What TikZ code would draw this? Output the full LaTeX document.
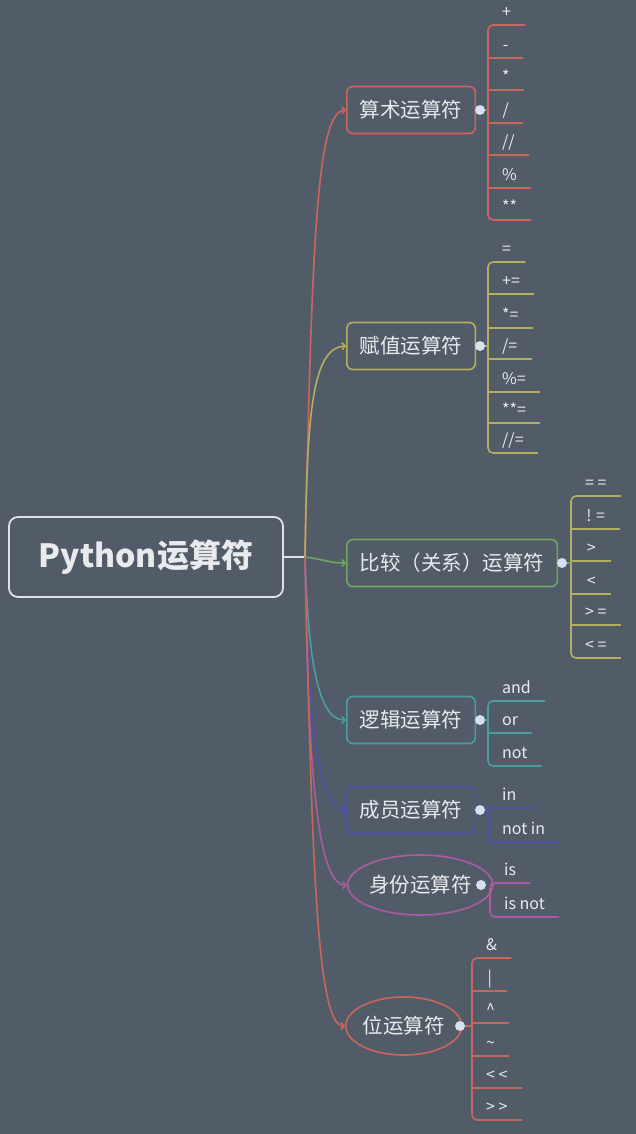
\documentclass[tikz,border=0pt]{standalone}
\usepackage{fontspec}
\setmainfont{Noto Sans CJK SC}
\usetikzlibrary{arrows.meta,shapes.geometric}

\definecolor{bg}{RGB}{82,92,104}
\definecolor{txt}{RGB}{232,234,237}
\definecolor{rootgray}{RGB}{222,226,230}
\definecolor{dotblue}{RGB}{214,224,240}
\definecolor{cred}{RGB}{200,102,92}
\definecolor{colive}{RGB}{180,174,96}
\definecolor{cgreen}{RGB}{108,168,96}
\definecolor{cteal}{RGB}{74,158,160}
\definecolor{cblue}{RGB}{82,82,170}
\definecolor{cpurple}{RGB}{170,92,160}

\tikzset{
  root/.style={draw=rootgray, line width=1.8pt, rounded corners=9pt, minimum width=274pt,
    minimum height=80pt, text=txt, font=\fontsize{32}{36}\selectfont\bfseries},
  topic/.style={draw=#1, line width=1.6pt, rounded corners=6pt, minimum height=47pt,
    inner xsep=13pt, anchor=west, text=txt, font=\fontsize{20.5}{24}\selectfont},
  topicoval/.style={ellipse, draw=#1, line width=1.6pt, inner sep=0pt, anchor=west,
    text=txt, font=\fontsize{20.5}{24}\selectfont},
  leaf/.style={anchor=south west, minimum width=35pt, inner xsep=14pt, inner ysep=3pt,
    text height=11pt, text depth=4pt, text=txt, font=\fontsize{16}{18}\selectfont},
  branch/.style={draw=#1, line width=1.6pt, -{Straight Barb[length=3pt,width=7pt]}},
  brk/.style={draw=#1, line width=1.6pt},
  dot/.style={circle, fill=dotblue, inner sep=0pt, minimum size=10pt},
}

\begin{document}
\begin{tikzpicture}[x=1pt,y=-1pt]
  \fill[bg] (0,0) rectangle (636,1134);
  \useasboundingbox (0,0) rectangle (636,1134);

  % main topic
  \node[root] (root) at (146,557) {Python运算符};
  \coordinate (hub) at (305,557);
  \draw[rootgray, line width=1.6pt] (root.east) -- (hub);

  % sub topics
  \node[topic=cred] (arith) at (346,110) {算术运算符};
  \node[topic=colive] (assign) at (346,346) {赋值运算符};
  \node[topic=cgreen] (comp) at (346,563) {比较（关系）运算符};
  \node[topic=cteal] (logic) at (346,720) {逻辑运算符};
  \node[topic=cblue] (member) at (346,810) {成员运算符};
  \node[topicoval=cpurple, minimum width=127pt, minimum height=60pt] (ident) at (347,885) {身份运算符};
  \node[topicoval=cred, minimum width=109pt, minimum height=58pt] (bitop) at (345,1026) {位运算符};

  \draw[branch=cred] (hub) .. controls (312,250) and (316,112) .. (arith.west);
  \draw[branch=colive] (hub) .. controls (307,420) and (311,348) .. (assign.west);
  \draw[branch=cgreen] (hub) .. controls (322,559) and (330,563) .. (comp.west);
  \draw[branch=cteal] (hub) .. controls (308,650) and (316,720) .. (logic.west);
  \draw[branch=cblue] (hub) .. controls (307,700) and (316,810) .. (member.west);
  \draw[branch=cpurple] (hub) .. controls (308,760) and (316,885) .. (ident.west);
  \draw[branch=cred] (hub) .. controls (312,850) and (316,1026) .. (bitop.west);

  % arithmetic
  \node[leaf] (a1) at (488,25) {+};
  \node[leaf] (a2) at (488,58) {-};
  \node[leaf] (a3) at (488,90) {*};
  \node[leaf] (a4) at (488,123) {/};
  \node[leaf] (a5) at (488,155) {//};
  \node[leaf] (a6) at (488,188) {\%};
  \node[leaf] (a7) at (488,220) {**};
  \draw[brk=cred, rounded corners=5pt] (a1.south east) -- (a1.south west) -- (a7.south west) -- (a7.south east);
  \draw[brk=cred] (a2.south west) -- (a2.south east) (a3.south west) -- (a3.south east)
    (a4.south west) -- (a4.south east) (a5.south west) -- (a5.south east)
    (a6.south west) -- (a6.south east);
  \draw[brk=cred] (arith.east) -- (arith.east -| a1.south west);
  \node[dot] (arithdot) at (480,110) {};

  % assignment
  \node[leaf] (s1) at (488,262) {=};
  \node[leaf] (s2) at (488,294) {+=};
  \node[leaf] (s3) at (488,328) {*=};
  \node[leaf] (s4) at (488,359) {/=};
  \node[leaf] (s5) at (488,392) {\%=};
  \node[leaf] (s6) at (488,423) {**=};
  \node[leaf] (s7) at (488,453) {//=};
  \draw[brk=colive, rounded corners=5pt] (s1.south east) -- (s1.south west) -- (s7.south west) -- (s7.south east);
  \draw[brk=colive] (s2.south west) -- (s2.south east) (s3.south west) -- (s3.south east)
    (s4.south west) -- (s4.south east) (s5.south west) -- (s5.south east)
    (s6.south west) -- (s6.south east);
  \draw[brk=colive] (assign.east) -- (assign.east -| s1.south west);
  \node[dot] (assigndot) at (480,346) {};

  % comparison
  \node[leaf, minimum width=49pt] (c1) at (571,496) {= =};
  \node[leaf, minimum width=49pt] (c2) at (571,529) {! =};
  \node[leaf, minimum width=40pt] (c3) at (571,561) {>};
  \node[leaf, minimum width=40pt] (c4) at (571,594) {<};
  \node[leaf, minimum width=49pt] (c5) at (571,625) {> =};
  \node[leaf, minimum width=49pt] (c6) at (571,658) {< =};
  \draw[brk=colive, rounded corners=5pt] (c1.south east) -- (c1.south west) -- (c6.south west) -- (c6.south east);
  \draw[brk=colive] (c2.south west) -- (c2.south east) (c3.south west) -- (c3.south east)
    (c4.south west) -- (c4.south east) (c5.south west) -- (c5.south east);
  \draw[brk=cgreen] (comp.east) -- (comp.east -| c1.south west);
  \node[dot] (compdot) at (562,563) {};

  % logical
  \node[leaf] (g1) at (488,701) {and};
  \node[leaf] (g2) at (488,733) {or};
  \node[leaf] (g3) at (488,766) {not};
  \draw[brk=cteal, rounded corners=5pt] (g1.south east) -- (g1.south west) -- (g3.south west) -- (g3.south east);
  \draw[brk=cteal] (g2.south west) -- (g2.south east);
  \draw[brk=cteal] (logic.east) -- (logic.east -| g1.south west);
  \node[dot] (logicdot) at (480,720) {};

  % membership
  \node[leaf] (m1) at (488,808) {in};
  \node[leaf] (m2) at (488,842) {not in};
  \draw[brk=cblue, rounded corners=5pt] (m1.south east) -- (m1.south west) -- (m2.south west) -- (m2.south east);
  \draw[brk=cblue] (member.east) -- (member.east -| m1.south west);
  \node[dot] (memberdot) at (480,810) {};

  % identity
  \node[leaf] (i1) at (490,883) {is};
  \node[leaf] (i2) at (490,917) {is not};
  \draw[brk=cpurple, rounded corners=5pt] (i1.south east) -- (i1.south west) -- (i2.south west) -- (i2.south east);
  \draw[brk=cpurple] (ident.east) -- (ident.east -| i1.south west);
  \node[dot] (identdot) at (481,885) {};

  % bitwise
  \node[leaf] (b1) at (472,958) {\&};
  \node[leaf] (b2) at (472,991) {|};
  \node[leaf] (b3) at (472,1023) {\textasciicircum};
  \node[leaf] (b4) at (472,1056) {\textasciitilde};
  \node[leaf, minimum width=46pt] (b5) at (472,1088) {< <};
  \node[leaf, minimum width=46pt] (b6) at (472,1120) {> >};
  \draw[brk=cred, rounded corners=5pt] (b1.south east) -- (b1.south west) -- (b6.south west) -- (b6.south east);
  \draw[brk=cred] (b2.south west) -- (b2.south east) (b3.south west) -- (b3.south east)
    (b4.south west) -- (b4.south east) (b5.south west) -- (b5.south east);
  \draw[brk=cred] (bitop.east) -- (bitop.east -| b1.south west);
  \node[dot] (bitopdot) at (460,1026) {};
\end{tikzpicture}
\end{document}
